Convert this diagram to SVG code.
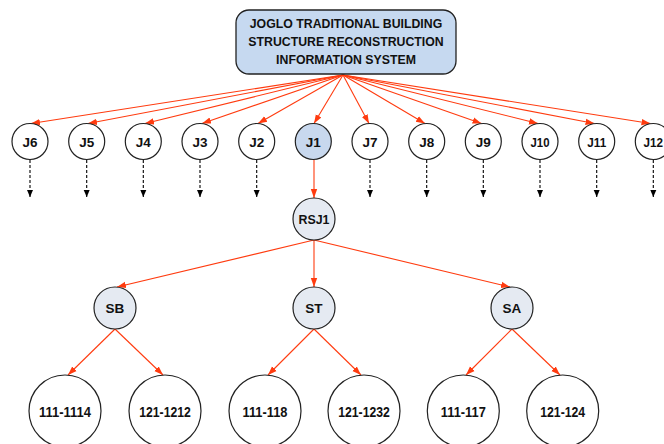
<svg xmlns="http://www.w3.org/2000/svg" width="664" height="444" viewBox="0 0 664 444">
<defs>
<marker id="ar" markerUnits="userSpaceOnUse" markerWidth="10" markerHeight="8" refX="9" refY="4" orient="auto"><path d="M0,0.8 L9,4 L0,7.2 Z" fill="#ff3b0f"/></marker>
<marker id="ak" markerUnits="userSpaceOnUse" markerWidth="8" markerHeight="8" refX="7" refY="3.5" orient="auto"><path d="M0,0.5 L7,3.5 L0,6.5 Z" fill="#000"/></marker>
<style>
text{font-family:"Liberation Sans",Arial,sans-serif;font-weight:bold;fill:#111;text-anchor:middle}
.n{stroke:#222;stroke-width:1.2;fill:#fff}
.hl{stroke:#222;stroke-width:1.2;fill:#c8d8ee}
.lt{stroke:#222;stroke-width:1.2;fill:#e5eaf2}
.r{stroke:#ff3b0f;stroke-width:1.1;fill:none;marker-end:url(#ar)}
.d{stroke:#000;stroke-width:1.1;stroke-dasharray:3,2;fill:none;marker-end:url(#ak)}
.j{font-size:13.5px}
.lf{font-size:14.5px}
</style>
</defs>
<g id="connectors">
<line class="r" x1="343" y1="75" x2="31" y2="123.5"/>
<line class="r" x1="343" y1="75" x2="88" y2="123.5"/>
<line class="r" x1="343" y1="75" x2="145" y2="123.5"/>
<line class="r" x1="343" y1="75" x2="202" y2="123.5"/>
<line class="r" x1="343" y1="75" x2="258" y2="123.5"/>
<line class="r" x1="343" y1="75" x2="314" y2="123.5"/>
<line class="r" x1="343" y1="75" x2="369" y2="123.5"/>
<line class="r" x1="343" y1="75" x2="425" y2="123.5"/>
<line class="r" x1="343" y1="75" x2="481.5" y2="123.5"/>
<line class="r" x1="343" y1="75" x2="538" y2="123.5"/>
<line class="r" x1="343" y1="75" x2="594.5" y2="123.5"/>
<line class="r" x1="343" y1="75" x2="650.5" y2="123.5"/>
<line class="d" x1="30" y1="160" x2="30" y2="197"/>
<line class="d" x1="86.7" y1="160" x2="86.7" y2="197"/>
<line class="d" x1="143.3" y1="160" x2="143.3" y2="197"/>
<line class="d" x1="200" y1="160" x2="200" y2="197"/>
<line class="d" x1="256.7" y1="160" x2="256.7" y2="197"/>
<line class="d" x1="370" y1="160" x2="370" y2="197"/>
<line class="d" x1="426.7" y1="160" x2="426.7" y2="197"/>
<line class="d" x1="483.3" y1="160" x2="483.3" y2="197"/>
<line class="d" x1="540" y1="160" x2="540" y2="197"/>
<line class="d" x1="596.7" y1="160" x2="596.7" y2="197"/>
<line class="d" x1="653.3" y1="160" x2="653.3" y2="197"/>
<line class="r" x1="314" y1="160" x2="314" y2="198"/>
<line class="r" x1="314" y1="240" x2="117" y2="287"/>
<line class="r" x1="314" y1="240" x2="314" y2="287"/>
<line class="r" x1="314" y1="240" x2="510" y2="287"/>
<line class="r" x1="115" y1="329" x2="68" y2="375"/>
<line class="r" x1="115" y1="329" x2="163" y2="375"/>
<line class="r" x1="314" y1="329" x2="268" y2="375"/>
<line class="r" x1="314" y1="329" x2="361" y2="375"/>
<line class="r" x1="512" y1="329" x2="466" y2="375"/>
<line class="r" x1="512" y1="329" x2="560" y2="375"/>
</g>
<g id="root">
<rect x="236" y="10" width="220" height="64" rx="13" fill="#c6d9f0" stroke="#222" stroke-width="1.3"/>
<text x="346" y="28" font-size="12.3">JOGLO TRADITIONAL BUILDING</text>
<text x="346" y="46" font-size="12.3">STRUCTURE RECONSTRUCTION</text>
<text x="346" y="64" font-size="12.3">INFORMATION SYSTEM</text>
</g>
<g id="J6"><circle class="n" cx="30" cy="141.5" r="18"/><text class="j" x="30" y="146.5">J6</text></g>
<g id="J5"><circle class="n" cx="86.7" cy="141.5" r="18"/><text class="j" x="86.7" y="146.5">J5</text></g>
<g id="J4"><circle class="n" cx="143.3" cy="141.5" r="18"/><text class="j" x="143.3" y="146.5">J4</text></g>
<g id="J3"><circle class="n" cx="200" cy="141.5" r="18"/><text class="j" x="200" y="146.5">J3</text></g>
<g id="J2"><circle class="n" cx="256.7" cy="141.5" r="18"/><text class="j" x="256.7" y="146.5">J2</text></g>
<g id="J1"><circle class="hl" cx="313.3" cy="141.5" r="18"/><text class="j" x="313.3" y="146.5">J1</text></g>
<g id="J7"><circle class="n" cx="370" cy="141.5" r="18"/><text class="j" x="370" y="146.5">J7</text></g>
<g id="J8"><circle class="n" cx="426.7" cy="141.5" r="18"/><text class="j" x="426.7" y="146.5">J8</text></g>
<g id="J9"><circle class="n" cx="483.3" cy="141.5" r="18"/><text class="j" x="483.3" y="146.5">J9</text></g>
<g id="J10"><circle class="n" cx="540" cy="141.5" r="18"/><text class="j" x="540" y="146.5" textLength="19" lengthAdjust="spacingAndGlyphs">J10</text></g>
<g id="J11"><circle class="n" cx="596.7" cy="141.5" r="18"/><text class="j" x="596.7" y="146.5" textLength="19" lengthAdjust="spacingAndGlyphs">J11</text></g>
<g id="J12"><circle class="n" cx="653.3" cy="141.5" r="18"/><text class="j" x="653.3" y="146.5" textLength="19.5" lengthAdjust="spacingAndGlyphs">J12</text></g>
<g id="RSJ1"><circle class="lt" cx="314" cy="219" r="21"/><text class="j" x="314" y="224" textLength="31" lengthAdjust="spacingAndGlyphs">RSJ1</text></g>
<g id="SB"><circle class="lt" cx="115" cy="308" r="21"/><text class="j" x="115" y="312.5">SB</text></g>
<g id="ST"><circle class="lt" cx="314" cy="308" r="21"/><text class="j" x="314" y="312.5">ST</text></g>
<g id="SA"><circle class="lt" cx="512" cy="308" r="21"/><text class="j" x="512" y="312.5">SA</text></g>
<g id="L111-1114"><circle class="n" cx="65" cy="411" r="36"/><text class="lf" x="65" y="416.5" textLength="52" lengthAdjust="spacingAndGlyphs">111-1114</text></g>
<g id="L121-1212"><circle class="n" cx="165" cy="411" r="36"/><text class="lf" x="165" y="416.5" textLength="51.5" lengthAdjust="spacingAndGlyphs">121-1212</text></g>
<g id="L111-118"><circle class="n" cx="265" cy="411" r="36"/><text class="lf" x="265" y="416.5" textLength="45" lengthAdjust="spacingAndGlyphs">111-118</text></g>
<g id="L121-1232"><circle class="n" cx="364" cy="411" r="36"/><text class="lf" x="364" y="416.5" textLength="51.5" lengthAdjust="spacingAndGlyphs">121-1232</text></g>
<g id="L111-117"><circle class="n" cx="463.3" cy="411" r="36"/><text class="lf" x="463.3" y="416.5" textLength="45" lengthAdjust="spacingAndGlyphs">111-117</text></g>
<g id="L121-124"><circle class="n" cx="562.7" cy="411" r="36"/><text class="lf" x="562.7" y="416.5" textLength="45" lengthAdjust="spacingAndGlyphs">121-124</text></g>
</svg>
